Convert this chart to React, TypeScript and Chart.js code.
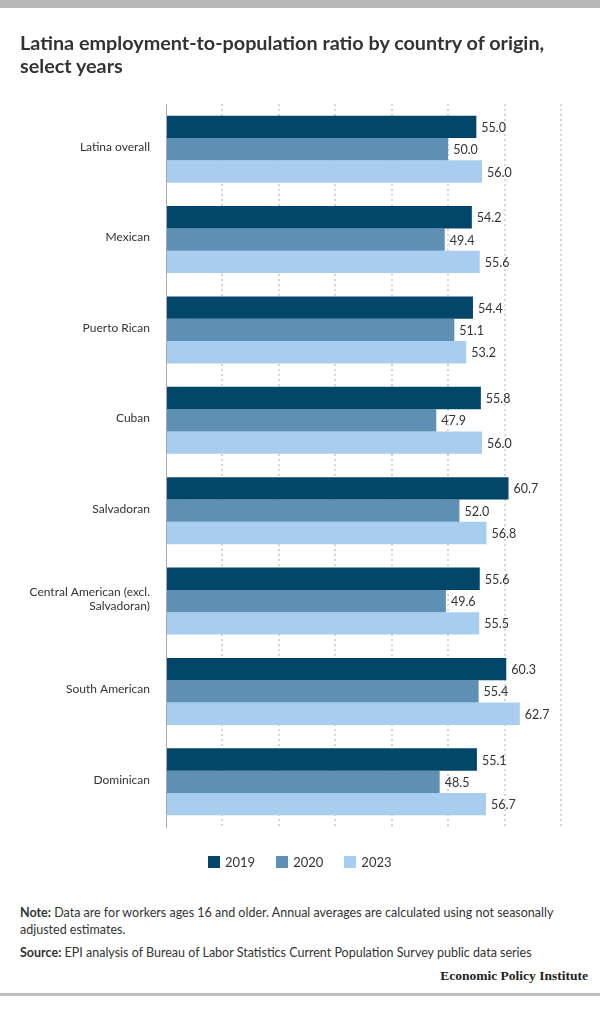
import React, { useEffect, useRef } from "react";
import { Chart, registerables } from "chart.js";

Chart.register(...registerables);

const categories: (string | string[])[] = [
  "Latina overall",
  "Mexican",
  "Puerto Rican",
  "Cuban",
  "Salvadoran",
  ["Central American (excl.", "Salvadoran)"],
  "South American",
  "Dominican",
];

const seriesNames = ["2019", "2020", "2023"];
const values2019 = [55.0, 54.2, 54.4, 55.8, 60.7, 55.6, 60.3, 55.1];
const values2020 = [50.0, 49.4, 51.1, 47.9, 52.0, 49.6, 55.4, 48.5];
const values2023 = [56.0, 55.6, 53.2, 56.0, 56.8, 55.5, 62.7, 56.7];
const seriesColors = ["#02466a", "#5e8fb4", "#a9cdee"];

const xMin = 0;
const xMax = 70;
const xStep = 10;

const FONT = "Lato, 'Open Sans', sans-serif";

const valueLabels = {
  id: "valueLabels",
  afterDatasetsDraw(chart: any) {
    const ctx = chart.ctx;
    ctx.save();
    ctx.font = `12.5px ${FONT}`;
    ctx.fillStyle = "#333333";
    ctx.textAlign = "left";
    ctx.textBaseline = "middle";
    chart.data.datasets.forEach((ds: any, i: number) => {
      const meta = chart.getDatasetMeta(i);
      meta.data.forEach((bar: any, j: number) => {
        const v = ds.data[j] as number;
        ctx.fillText(v.toFixed(1), bar.x + 5, bar.y + 1);
      });
    });
    ctx.restore();
  },
};

function BarChart() {
  const ref = useRef<HTMLCanvasElement | null>(null);
  useEffect(() => {
    if (!ref.current) return;
    const allValues = [values2019, values2020, values2023];
    const chart = new Chart(ref.current, {
      type: "bar",
      data: {
        labels: categories,
        datasets: allValues.map((vals, i) => ({
          label: seriesNames[i],
          data: vals,
          backgroundColor: seriesColors[i],
          borderWidth: 0,
          categoryPercentage: 0.74,
          barPercentage: 1.0,
        })),
      },
      options: {
        indexAxis: "y",
        animation: false,
        responsive: false,
        maintainAspectRatio: false,
        layout: { padding: { top: 104, bottom: 53, left: 0, right: 39 } },
        plugins: {
          legend: { display: false },
          tooltip: { enabled: false },
          title: { display: false },
        },
        scales: {
          x: {
            min: xMin,
            max: xMax,
            ticks: { display: false, stepSize: xStep },
            border: { display: false, dash: [2, 3] },
            grid: {
              drawTicks: false,
              color: (c: any) => (c.index === 0 ? "rgba(0,0,0,0)" : "#d4d4d4"),
              lineWidth: 2,
            },
            afterFit: (s: any) => {
              s.height = 0;
            },
          },
          y: {
            ticks: {
              color: "#333333",
              font: { family: FONT, size: 12 },
              padding: 8,
              labelOffset: -2,
            },
            grid: { display: false },
            border: { display: true, color: "#a8a8a8", width: 1 },
            afterFit: (s: any) => {
              s.width = 166;
            },
          },
        },
      },
      plugins: [valueLabels],
    } as any);
    return () => chart.destroy();
  }, []);
  return <canvas ref={ref} width={600} height={880} style={{ position: "absolute", left: 0, top: 0 }} />;
}

export default function App() {
  return (
    <div
      style={{
        position: "absolute",
        left: 0,
        top: 0,
        width: 600,
        height: 1018,
        background: "#ffffff",
        fontFamily: FONT,
        color: "#333333",
        overflow: "hidden",
      }}
    >
      <div style={{ position: "absolute", left: 0, top: 0, width: 600, height: 8, background: "#b8b8b8" }} />
      <BarChart />
      <div
        style={{
          position: "absolute",
          left: 20,
          top: 31,
          width: 575,
          fontSize: 19.8,
          fontWeight: 700,
          lineHeight: "23px",
          color: "#333333",
          whiteSpace: "nowrap",
        }}
      >
        Latina employment-to-population ratio by country of origin,
        <br />
        select years
      </div>
      <div
        style={{
          position: "absolute",
          left: 208,
          top: 854,
          display: "flex",
          alignItems: "center",
          fontSize: 13,
          color: "#333333",
        }}
      >
        {seriesNames.map((n, i) => (
          <div key={n} style={{ display: "flex", alignItems: "center", marginRight: 21 }}>
            <span style={{ display: "inline-block", width: 12, height: 12, background: seriesColors[i], marginRight: 5 }} />
            <span>{n}</span>
          </div>
        ))}
      </div>
      <div
        style={{
          position: "absolute",
          left: 20,
          top: 904,
          width: 560,
          fontSize: 12.5,
          lineHeight: "17px",
          color: "#333333",
        }}
      >
        <div>
          <b>Note:</b> Data are for workers ages 16 and older. Annual averages are calculated using not seasonally adjusted estimates.
        </div>
        <div style={{ marginTop: 6 }}>
          <b>Source:</b> EPI analysis of Bureau of Labor Statistics Current Population Survey public data series
        </div>
      </div>
      <div
        style={{
          position: "absolute",
          right: 12,
          top: 968,
          fontFamily: "'Liberation Serif', 'DejaVu Serif', serif",
          fontWeight: 700,
          fontSize: 13.5,
          color: "#222222",
        }}
      >
        Economic Policy Institute
      </div>
      <div style={{ position: "absolute", left: 0, top: 993, width: 600, height: 3, background: "#bdbdbd" }} />
    </div>
  );
}
